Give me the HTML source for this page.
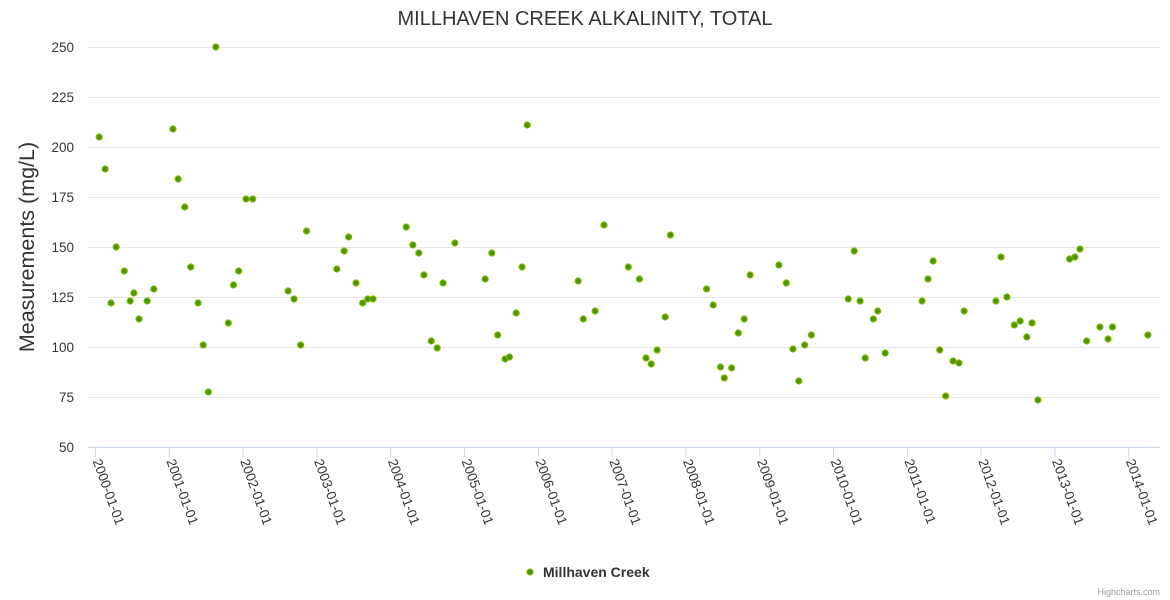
<!DOCTYPE html>
<html><head><meta charset="utf-8"><style>
html,body{margin:0;padding:0;background:#fff;}
svg{display:block;font-family:"Liberation Sans","DejaVu Sans",sans-serif;}
</style></head><body>
<svg id="chart" width="1170" height="600">
<text x="585" y="25" text-anchor="middle" font-size="20" fill="#333">MILLHAVEN CREEK ALKALINITY, TOTAL</text>
<text transform="translate(34,247) rotate(-90)" text-anchor="middle" font-size="21.5" fill="#333">Measurements (mg/L)</text>
<g id="grid"></g><g id="xaxis"></g><g id="pts"></g>
<g>
<circle cx="530" cy="572" r="3" fill="#4f9400" stroke="#7ab800" stroke-width="1.2"/>
<text x="543" y="577" font-size="14" font-weight="bold" fill="#333">Millhaven Creek</text>
</g>
<text x="1160" y="595" text-anchor="end" font-size="9" fill="#999">Highcharts.com</text>
</svg>
<script>
const dates=[2000.05,2000.13,2000.21,2000.28,2000.39,2000.47,2000.52,2000.59,2000.70,2000.79,2001.05,2001.12,2001.21,2001.29,2001.39,2001.46,2001.53,2001.63,2001.80,2001.87,2001.94,2002.04,2002.13,2002.61,2002.69,2002.78,2002.86,2003.27,2003.37,2003.43,2003.53,2003.62,2003.69,2003.76,2004.21,2004.30,2004.38,2004.45,2004.55,2004.63,2004.71,2004.87,2005.28,2005.37,2005.45,2005.55,2005.61,2005.70,2005.78,2005.85,2006.54,2006.61,2006.77,2006.89,2007.22,2007.37,2007.46,2007.53,2007.61,2007.72,2007.79,2008.28,2008.37,2008.47,2008.52,2008.62,2008.71,2008.79,2008.87,2009.26,2009.36,2009.45,2009.53,2009.61,2009.70,2010.20,2010.28,2010.36,2010.43,2010.54,2010.60,2010.70,2011.20,2011.28,2011.35,2011.44,2011.52,2011.62,2011.70,2011.77,2012.20,2012.27,2012.35,2012.45,2012.53,2012.62,2012.69,2012.77,2013.20,2013.27,2013.34,2013.43,2013.61,2013.72,2013.78,2014.26];
const values=[205,189,122,150,138,123,127,114,123,129,209,184,170,140,122,101,77.5,250,112,131,138,174,174,128,124,101,158,139,148,155,132,122,124,124,160,151,147,136,103,99.5,132,152,134,147,106,94,95,117,140,211,133,114,118,161,140,134,94.5,91.5,98.5,115,156,129,121,90,84.5,89.5,107,114,136,141,132,99,83,101,106,124,148,123,94.5,114,118,97,123,134,143,98.5,75.5,93,92,118,123,145,125,111,113,105,112,73.5,144,145,149,103,110,104,110,106];
const yTicks=[50,75,100,125,150,175,200,225,250];
const xTickYears=[2000,2001,2002,2003,2004,2005,2006,2007,2008,2009,2010,2011,2012,2013,2014];
const NS="http://www.w3.org/2000/svg";
const X=v=>95.5+(v-2000)*73.8;
const Y=v=>447-(v-50)*2;
const grid=document.getElementById('grid'),xa=document.getElementById('xaxis'),pts=document.getElementById('pts');
function mk(tag,attrs,parent){const e=document.createElementNS(NS,tag);for(const k in attrs)e.setAttribute(k,attrs[k]);parent.appendChild(e);return e;}
yTicks.forEach(t=>{
 if(t>50){const l=mk('line',{x1:88,x2:1160,y1:Y(t)+0.5,y2:Y(t)+0.5,stroke:'#e6e6e6'},grid);
 
 }
 const tx=mk('text',{x:74,y:Y(t)+5,'text-anchor':'end','font-size':'13.5',fill:'#333'},grid);
 tx.textContent=t;
 
 
});
const ax=mk('line',{x1:88,x2:1160,y1:447.5,y2:447.5,stroke:'#ccd6eb'},xa);


xTickYears.forEach(yr=>{
 const x=X(yr);
 const tk=mk('line',{x1:x,x2:x,y1:447,y2:457,stroke:'#ccd6eb'},xa);
 
 
 const tx=mk('text',{transform:`translate(${x-3},461) rotate(70)`,'font-size':'13.5',fill:'#333'},xa);
 tx.textContent=yr+'-01-01';
 
 
});
dates.forEach((d,i)=>{
 const c=mk('circle',{cx:X(d),cy:Y(values[i]),r:3,fill:'#4f9400',stroke:'#7ab800','stroke-width':1.2},pts);
 
 
});
</script>
</body></html>
